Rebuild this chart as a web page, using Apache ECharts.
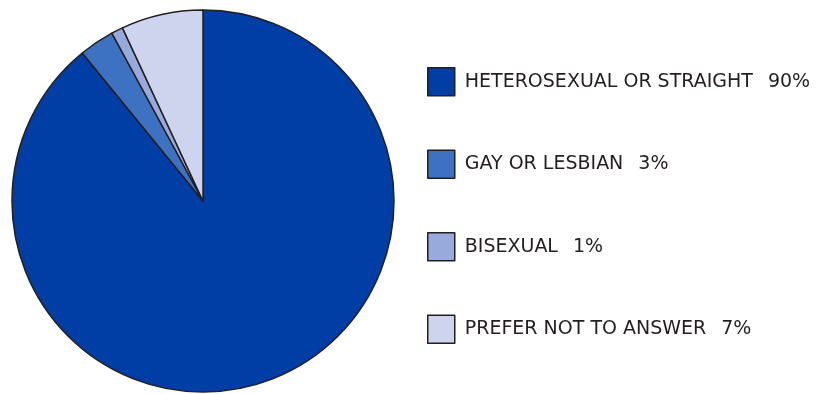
<!DOCTYPE html>
<html>
<head>
<meta charset="utf-8">
<style>
  html, body { margin: 0; padding: 0; background: #fff; }
  #chart { width: 818px; height: 394px; }
</style>
<script src="https://cdn.jsdelivr.net/npm/echarts@6/dist/echarts.min.js"></script>
</head>
<body>
<div id="chart"></div>
<script>
// Sexual orientation responses (percent)
const categories = ['HETEROSEXUAL OR STRAIGHT', 'GAY OR LESBIAN', 'BISEXUAL', 'PREFER NOT TO ANSWER'];
const values = [90, 3, 1, 7];
const colors = ['#003da5', '#3d72c3', '#98a9dc', '#cfd4ee'];

const chart = echarts.init(document.getElementById('chart'), null, { renderer: 'canvas' });

const data = categories.map((name, i) => ({
  name,
  value: values[i],
  itemStyle: { color: colors[i] }
}));

const legendFont = { fontFamily: 'DejaVu Sans', fontSize: 19, color: '#231f20' };

chart.setOption({
  animation: false,
  legend: {
    orient: 'vertical',
    left: 427,
    top: 67,
    padding: 0,
    itemWidth: 27,
    itemHeight: 28,
    itemGap: 53,
    icon: 'rect',
    itemStyle: { borderColor: '#231f20', borderWidth: 1.5 },
    formatter: name => '{n|' + name + '}{p|' + values[categories.indexOf(name)] + '%}',
    textStyle: {
      ...legendFont,
      padding: [0, 0, 0, 5],
      rich: {
        n: { ...legendFont },
        p: { ...legendFont, padding: [0, 0, 0, 15] }
      }
    },
    selectedMode: false
  },
  series: [{
    type: 'pie',
    center: [203, 201],
    radius: [0, 191],
    startAngle: 90,
    clockwise: true,
    label: { show: false },
    labelLine: { show: false },
    emphasis: { disabled: true },
    itemStyle: { borderColor: '#231f20', borderWidth: 1.5 },
    data
  }]
});
</script>
</body>
</html>
